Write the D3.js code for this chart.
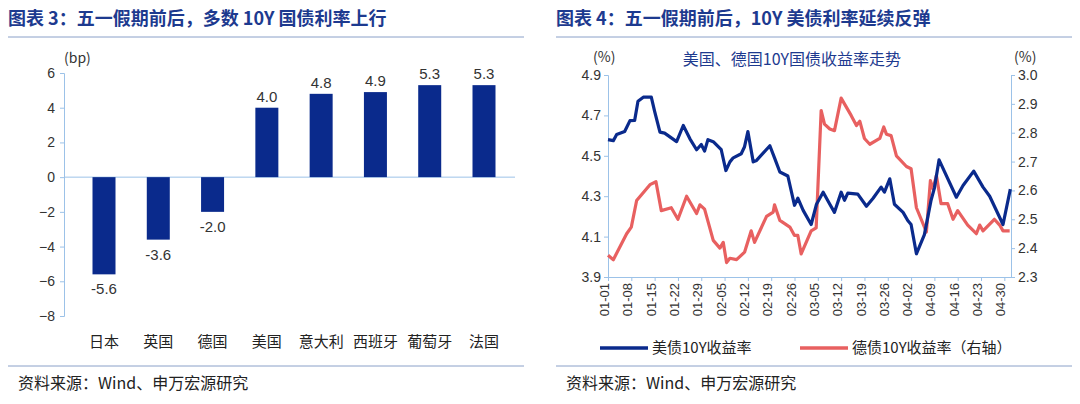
<!DOCTYPE html>
<html><head><meta charset="utf-8">
<script src="https://cdn.jsdelivr.net/npm/d3@7"></script>
<style>body{margin:0;background:#fff}text{font-family:"Noto Sans CJK SC","Noto Sans",sans-serif}.num{font-family:"Liberation Sans",Arial,sans-serif}</style>
</head><body><svg id="c" width="1080" height="404"></svg>
<script>
// left chart
const countries = ['日本', '英国', '德国', '美国', '意大利', '西班牙', '葡萄牙', '法国'];
const changes = [-5.6, -3.6, -2.0, 4.0, 4.8, 4.9, 5.3, 5.3];
const leftTicks = [6, 4, 2, 0, -2, -4, -6, -8];

// right chart: [day offset from 01-01, value]
const dateLabels = ['01-01','01-08','01-15','01-22','01-29','02-05','02-12','02-19','02-26','03-05','03-12','03-19','03-26','04-02','04-09','04-16','04-23','04-30'];
const usYield = [[0,4.58],[1.6,4.575],[2.6,4.605],[5,4.62],[6.6,4.674],[8,4.675],[9,4.77],[10.6,4.79],[13,4.79],[14,4.72],[15.6,4.617],[17,4.612],[20.6,4.57],[22.6,4.65],[24.6,4.584],[26.6,4.53],[28,4.556],[29,4.523],[30,4.58],[31.6,4.57],[34,4.53],[35.4,4.427],[36.6,4.47],[37.6,4.49],[40,4.51],[41,4.545],[42,4.62],[43.6,4.47],[44.6,4.477],[48.6,4.55],[50,4.49],[51.6,4.42],[54,4.40],[56,4.255],[57,4.29],[58.6,4.23],[61,4.16],[62.6,4.26],[64.6,4.32],[66.6,4.26],[68,4.22],[70,4.32],[71,4.28],[72,4.315],[75,4.31],[77.6,4.25],[79.6,4.29],[82,4.345],[83,4.32],[84.6,4.386],[86,4.26],[88.6,4.22],[90,4.18],[91,4.16],[92.6,4.015],[95,4.11],[97,4.28],[98,4.34],[99.4,4.48],[104.6,4.295],[106.6,4.353],[109.8,4.424],[112.6,4.345],[114.6,4.30],[118.6,4.16],[120.8,4.335]];
const deYield = [[0,2.375],[1.6,2.36],[5.6,2.45],[7,2.473],[8.6,2.565],[12.6,2.62],[14.4,2.63],[16,2.53],[19,2.54],[21,2.50],[23.6,2.58],[26.6,2.52],[27.6,2.55],[29,2.535],[31.6,2.427],[33.6,2.40],[34.6,2.42],[35.6,2.35],[36.6,2.365],[38.6,2.36],[41,2.386],[43,2.46],[44,2.42],[47.6,2.51],[49.6,2.525],[50,2.55],[51.6,2.496],[54.6,2.473],[56,2.444],[57,2.444],[58,2.38],[61,2.46],[62.5,2.47],[64,2.877],[65,2.83],[66.6,2.813],[68,2.807],[70,2.92],[73,2.86],[74.6,2.825],[75.6,2.84],[77,2.78],[78.6,2.76],[81.6,2.78],[82.8,2.82],[83.6,2.795],[85,2.79],[86.6,2.72],[89.6,2.683],[91,2.675],[92.6,2.54],[95.6,2.456],[96.8,2.634],[97.6,2.605],[98.6,2.652],[100,2.554],[102,2.554],[103.6,2.50],[105,2.53],[108,2.48],[110.6,2.45],[111.6,2.48],[112.6,2.46],[116,2.50],[117.6,2.48],[118.6,2.46],[120.6,2.46]];
const usTicks = [3.9, 4.1, 4.3, 4.5, 4.7, 4.9];
const deTicks = [2.3, 2.4, 2.5, 2.6, 2.7, 2.8, 2.9, 3.0];

const navy = '#0a2a8c', red = '#e86060', axisC = '#9cc2e8', titleC = '#1d3a8f';
const svg = d3.select('#c');

// headers and footers
[[8, '图表 3：五一假期前后，多数 10Y 国债利率上行'], [556, '图表 4：五一假期前后，10Y 美债利率延续反弹']].forEach(([x, t]) => {
  svg.append('text').attr('x', x).attr('y', 25).attr('font-size', 18).attr('font-weight', 'bold').attr('fill', titleC).text(t);
  svg.append('line').attr('x1', x).attr('x2', x + 516).attr('y1', 37).attr('y2', 37).attr('stroke', '#8aa0c8').attr('stroke-width', 1);
  svg.append('line').attr('x1', x).attr('x2', x + 516).attr('y1', 366).attr('y2', 366).attr('stroke', '#8aa0c8').attr('stroke-width', 1);
  svg.append('text').attr('x', x + 10).attr('y', 389).attr('font-size', 16).attr('fill', '#222').text('资料来源：Wind、申万宏源研究');
});

// left bar chart
const x1 = d3.scalePoint().domain(countries).range([104, 484]);
const bw = 23;
const y1 = d3.scaleLinear().domain([-8, 6]).range([316, 73]);
const gL = svg.append('g');
gL.append('g').attr('transform', 'translate(64,0)')
  .call(d3.axisLeft(y1).tickValues(leftTicks).tickSize(4).tickFormat(d3.format('d')))
  .call(g => { g.selectAll('line,path').attr('stroke', axisC); g.selectAll('text').attr('class', 'num').attr('font-size', 14).attr('fill', '#333').attr('dx', -2); });
gL.append('line').attr('x1', 64).attr('x2', 515).attr('y1', y1(0)).attr('y2', y1(0)).attr('stroke', axisC);
gL.append('text').attr('x', 64).attr('y', 63).attr('font-size', 14).attr('fill', '#333').text('(bp)');
gL.selectAll('rect').data(changes).join('rect')
  .attr('x', (d, i) => x1(countries[i]) - bw / 2).attr('width', bw)
  .attr('y', d => y1(Math.max(0, d))).attr('height', d => Math.abs(y1(d) - y1(0))).attr('fill', navy);
gL.selectAll('.vl').data(changes).join('text').attr('class', 'num')
  .attr('x', (d, i) => x1(countries[i]))
  .attr('y', d => d > 0 ? y1(d) - 6 : y1(d) + 20).attr('text-anchor', 'middle')
  .attr('font-size', 15).attr('fill', '#333').text(d => d.toFixed(1));
gL.selectAll('.cl').data(countries).join('text')
  .attr('x', d => x1(d)).attr('y', 347).attr('text-anchor', 'middle')
  .attr('font-size', 15).attr('fill', '#222').text(d => d);

// right line chart
const x2 = d3.scaleLinear().domain([0, 121]).range([608, 1011]);
const yU = d3.scaleLinear().domain([3.9, 4.9]).range([277, 75]);
const yD = d3.scaleLinear().domain([2.3, 3.0]).range([277, 75]);
const gR = svg.append('g');
gR.append('g').attr('transform', 'translate(608,0)')
  .call(d3.axisLeft(yU).tickValues(usTicks).tickSize(4).tickFormat(d3.format('.1f')))
  .call(g => { g.selectAll('line,path').attr('stroke', axisC); g.selectAll('text').attr('class', 'num').attr('font-size', 14).attr('fill', '#333'); });
gR.append('g').attr('transform', 'translate(1011,0)')
  .call(d3.axisRight(yD).tickValues(deTicks).tickSize(4).tickFormat(d3.format('.1f')))
  .call(g => { g.selectAll('line,path').attr('stroke', axisC); g.selectAll('text').attr('class', 'num').attr('font-size', 14).attr('fill', '#333'); });
const xTickDays = dateLabels.map((d, i) => i * 7);
gR.append('g').attr('transform', 'translate(0,277)')
  .call(d3.axisBottom(x2).tickValues(xTickDays).tickSize(4).tickSizeOuter(0).tickFormat((d, i) => dateLabels[i]))
  .call(g => { g.selectAll('line,path').attr('stroke', axisC);
    g.selectAll('text').attr('class', 'num').attr('font-size', 13).attr('fill', '#333').attr('text-anchor', 'end')
      .attr('transform', 'rotate(-90)').attr('x', -6).attr('y', -4).attr('dy', '0.35em'); });
gR.append('text').attr('x', 593).attr('y', 62).attr('font-size', 14).attr('fill', '#333').text('(%)');
gR.append('text').attr('x', 1014).attr('y', 62).attr('font-size', 14).attr('fill', '#333').text('(%)');
gR.append('text').attr('x', 792).attr('y', 65).attr('text-anchor', 'middle').attr('font-size', 16).attr('fill', titleC).text('美国、德国10Y国债收益率走势');
const lnU = d3.line().x(d => x2(d[0])).y(d => yU(d[1]));
const lnD = d3.line().x(d => x2(d[0])).y(d => yD(d[1]));
gR.append('path').attr('d', lnD(deYield)).attr('fill', 'none').attr('stroke', red).attr('stroke-width', 3.2).attr('stroke-linejoin', 'round');
gR.append('path').attr('d', lnU(usYield)).attr('fill', 'none').attr('stroke', navy).attr('stroke-width', 3.2).attr('stroke-linejoin', 'round');

// legend
[[600, navy, '美债10Y收益率'], [800, red, '德债10Y收益率（右轴）']].forEach(([x, c, t]) => {
  gR.append('line').attr('x1', x).attr('x2', x + 48).attr('y1', 348).attr('y2', 348).attr('stroke', c).attr('stroke-width', 3.5);
  gR.append('text').attr('x', x + 52).attr('y', 353).attr('font-size', 15).attr('fill', '#222').text(t);
});
</script></body></html>
